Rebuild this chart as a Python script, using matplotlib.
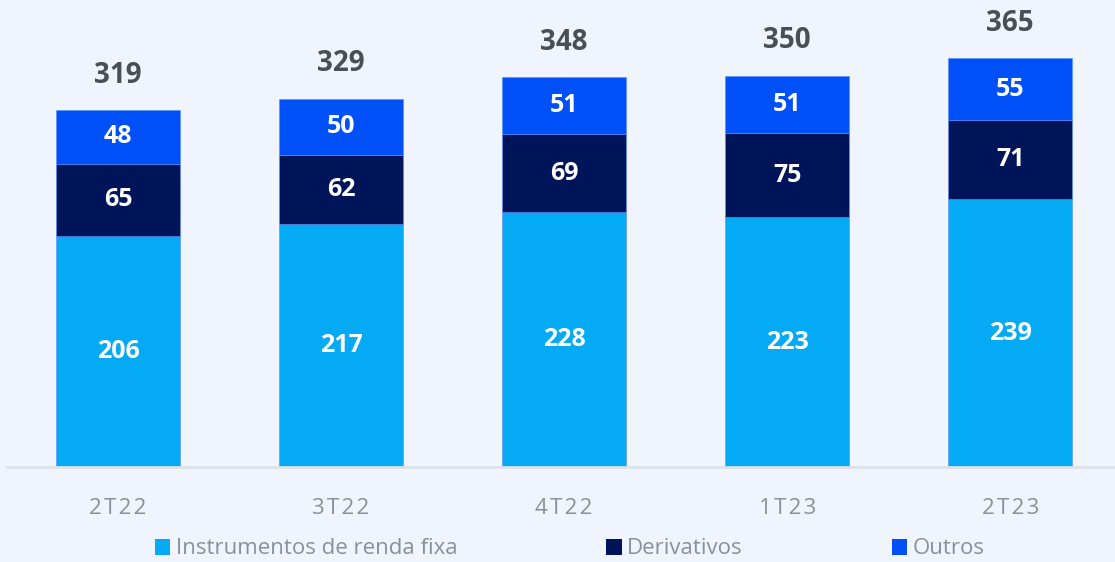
import numpy as np
from matplotlib import pyplot as plt

plt.rcParams['font.family'] = ['Open Sans', 'DejaVu Sans']

quarters = ['2T22', '3T22', '4T22', '1T23', '2T23']
renda_fixa = [206, 217, 228, 223, 239]
derivativos = [65, 62, 69, 75, 71]
outros = [48, 50, 51, 51, 55]
totals = [319, 329, 348, 350, 365]

series_names = ['Instrumentos de renda fixa', 'Derivativos', 'Outros']
colors = ['#05AAF4', '#00145A', '#0050F8']
bg = '#F0F5FD'

fig = plt.figure(figsize=(11.15, 5.62), dpi=100, facecolor=bg)
ax = fig.add_axes([7/1115, 95/562, 1108/1115, 467/562])
ax.set_facecolor(bg)

x = np.arange(len(quarters))
w = 0.556
bottom = np.zeros(len(quarters))
bars = []
for vals, c, name in zip([renda_fixa, derivativos, outros], colors, series_names):
    b = ax.bar(x, vals, w, bottom=bottom, color=c, label=name,
               edgecolor='#5A8CFF', linewidth=0.4)
    for xi, v, b0 in zip(x, vals, bottom):
        ax.text(xi, b0 + v / 2, str(v), ha='center', va='center',
                color='white', fontsize=18, fontweight='bold')
    bottom += vals
    bars.append(b)

for xi, t in zip(x, totals):
    ax.text(xi, t + 31, str(t), ha='center', va='center',
            color='#4A4F55', fontsize=20, fontweight='bold')

ax.set_xlim(-0.498, 4.47)
ax.set_ylim(0, 417)
ax.set_xticks(x)
ax.set_xticklabels(['\u200a'.join(q) for q in quarters], color='#8A8F99', fontsize=16)
ax.tick_params(axis='x', length=0, pad=22)
ax.set_yticks([])
for s in ['top', 'right', 'left']:
    ax.spines[s].set_visible(False)
ax.spines['bottom'].set_color('#DDE1E8')
ax.spines['bottom'].set_linewidth(2)

leg = fig.legend(handles=bars, labels=series_names, loc='center',
                 bbox_to_anchor=(0.511, 1 - 549/562), ncol=3, frameon=False,
                 fontsize=16, handlelength=0.7, handleheight=0.7,
                 handletextpad=0.25, columnspacing=6.7, borderpad=0.1)
for t in leg.get_texts():
    t.set_color('#8A8F99')
for h in leg.legend_handles:
    h.set_linewidth(0)

plt.savefig('out.png', dpi=100, facecolor=bg)
